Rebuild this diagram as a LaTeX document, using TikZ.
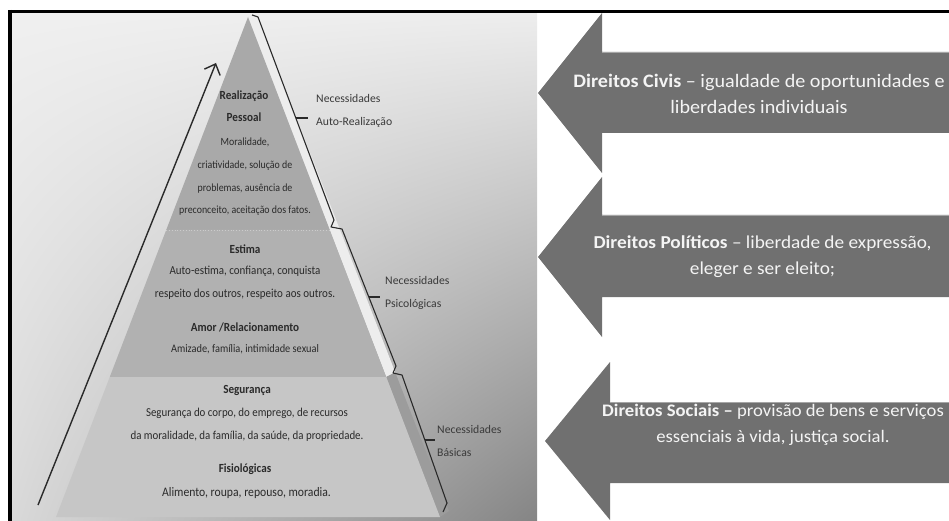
\documentclass[tikz,border=0pt]{standalone}
\usepackage{fontspec}
\setmainfont{Carlito}
\newfontfamily\pyrfont[FakeStretch=0.9]{Carlito}
\newfontfamily\rightsfont[FakeStretch=1.06]{Carlito}
\usetikzlibrary{arrows.meta,calc,shadings}

\definecolor{inkdark}{HTML}{2A2A2A}
\definecolor{labelgray}{HTML}{3A3A3A}
\definecolor{topband}{HTML}{A9A9A9}
\definecolor{midband}{HTML}{B1B1B1}
\definecolor{lowband}{HTML}{C6C6C6}
\definecolor{sidelight}{HTML}{EDEDED}
\definecolor{sidedark}{HTML}{9C9C9C}
\definecolor{arrowfill}{HTML}{707070}
\definecolor{arrowedge}{HTML}{A6A6A6}
\definecolor{arrowtext}{HTML}{F4F4F4}

\tikzset{
  frameline/.style={line width=3.5pt, black},
  levelhead/.style={font=\pyrfont\bfseries\fontsize{12.4}{22}\selectfont, text=inkdark, align=center, inner sep=0pt},
  levelbody/.style={font=\pyrfont\fontsize{#1}{22.6}\selectfont, text=inkdark, align=center, inner sep=0pt},
  levelbody/.default=11,
  bracelabel/.style={font=\fontsize{11.7}{23}\selectfont, text=labelgray, align=left, anchor=west, inner sep=0pt},
  braceline/.style={line width=1.1pt, inkdark, line join=round},
  growth/.style={line width=1.4pt, inkdark, -{Straight Barb[length=9pt,width=17pt,line width=1.4pt]}},
  rightsblock/.style={fill=arrowfill},
  rightstext/.style={font=\rightsfont\fontsize{#1}{26}\selectfont, text=arrowtext, align=center, inner sep=0pt},
  rightstext/.default=19,
}

\begin{document}
\begin{tikzpicture}[x=1pt,y=-1pt]
\useasboundingbox (0,0) rectangle (949,521);

% background panel behind the pyramid
\shade[shading=bilinear interpolation,
       upper left=white!94!black, upper right=white!93!black,
       lower left=white!85!black, lower right=white!52!black]
  (12,13) rectangle (537,521);

% pyramid geometry
\coordinate (A)  at (248,17);
\coordinate (BL) at (56,517);
\coordinate (BR) at (440,517);
\coordinate (S)  at (257,16);
\coordinate (SB) at (449,511);

% side face
\fill[sidelight] (A) -- (S) -- ($(S)!0.72!(SB)$) -- ($(A)!0.72!(BR)$) -- cycle;
\fill[sidedark]  ($(A)!0.72!(BR)$) -- ($(S)!0.72!(SB)$) -- (SB) -- (BR) -- cycle;

% front face, three bands
\fill[topband] (A) -- ($(A)!0.426!(BR)$) -- ($(A)!0.426!(BL)$) -- cycle;
\fill[midband] ($(A)!0.426!(BL)$) -- ($(A)!0.426!(BR)$) -- ($(A)!0.72!(BR)$) -- ($(A)!0.72!(BL)$) -- cycle;
\fill[lowband] ($(A)!0.72!(BL)$) -- ($(A)!0.72!(BR)$) -- (BR) -- (BL) -- cycle;
\draw[white!80!black, line width=0.8pt, dotted] ($(A)!0.426!(BL)$) -- ($(A)!0.426!(BR)$);

% growth arrow along the left side
\coordinate (g0) at (38,505);
\coordinate (g1) at (216,63);
\draw[growth] (g0) -- (g1);

% brace line with its three ticks
\draw[braceline] (252,15) -- (258,17) -- (334,220) -- (331,227) -- (342,229)
  -- (396,366) -- (393,373) -- (402,375) -- (447,503) -- (443,512);
\coordinate (t1a) at (296,118); \coordinate (t1b) at (308,118);
\coordinate (t2a) at (369,297); \coordinate (t2b) at (380,297);
\coordinate (t3a) at (425,440); \coordinate (t3b) at (435,440);
\draw[braceline] (t1a) -- (t1b);
\draw[braceline] (t2a) -- (t2b);
\draw[braceline] (t3a) -- (t3b);

\node[bracelabel] (nauto) at (316,111) {Necessidades\\Auto-Realização};
\node[bracelabel] (npsi)  at (385,293) {Necessidades\\Psicológicas};
\node[bracelabel] (nbas)  at (437,441) {Necessidades\\Básicas};

% level texts
\node[levelhead] (hreal) at (244,106) {Realização\\Pessoal};
\node[levelbody=11] (breal) at (245,177) {Moralidade,\\criatividade, solução de\\problemas, ausência de\\preconceito, aceitação dos fatos.};
\node[levelhead] (hest)  at (245,249) {Estima};
\node[levelbody=12.2] (best)  at (245,283) {Auto-estima, confiança, conquista\\respeito dos outros, respeito aos outros.};
\node[levelhead] (hamor) at (245,327) {Amor /Relacionamento};
\node[levelbody=11.5] (bamor) at (245,349) {Amizade, família, intimidade sexual};
\node[levelhead] (hseg)  at (247,390) {Segurança};
\node[levelbody=12.1] (bseg)  at (247,424.5) {Segurança do corpo, do emprego, de recursos\\da moralidade, da família, da saúde, da propriedade.};
\node[levelhead] (hfis)  at (245,469) {Fisiológicas};
\node[levelbody=13] (bfis)  at (246.5,493) {Alimento, roupa, repouso, moradia.};

% rights arrows
\fill[rightsblock] (538,93) -- (602,13) -- (602,52) -- (949,52) -- (949,133) -- (602,133) -- (602,173) -- cycle;
\draw[arrowedge, line width=1.2pt] (602,52.5) -- (949,52.5);
\fill[rightsblock] (538,257) -- (602,177) -- (602,215) -- (949,215) -- (949,297) -- (602,297) -- (602,337) -- cycle;
\draw[arrowedge, line width=1.2pt] (602,215.5) -- (949,215.5);
\fill[rightsblock] (545,441) -- (610,362) -- (610,402) -- (949,402) -- (949,483) -- (610,483) -- (610,520) -- cycle;
\draw[arrowedge, line width=1.2pt] (610,402.5) -- (949,402.5);

\node[rightstext=19]   (civis) at (759,94) {\textbf{Direitos Civis} – igualdade de oportunidades e\\liberdades individuais};
\node[rightstext=18.2] (polit) at (762.5,256.5) {\textbf{Direitos Políticos} – liberdade de expressão,\\eleger e ser eleito;};
\node[rightstext=17.6] (socia) at (773,425) {\textbf{Direitos Sociais –} provisão de bens e serviços\\essenciais à vida, justiça social.};

% outer frame
\draw[frameline] (8,11.5) -- (949,11.5);
\draw[frameline] (10,10) -- (10,521);
\end{tikzpicture}
\end{document}
